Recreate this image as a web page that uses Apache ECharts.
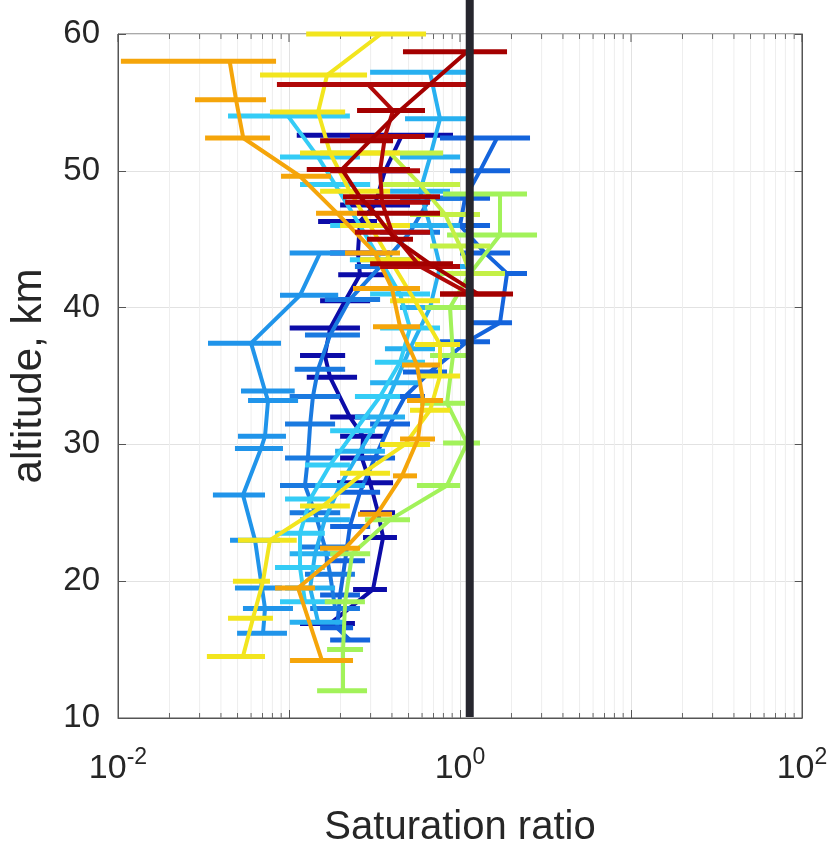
<!DOCTYPE html>
<html>
<head>
<meta charset="utf-8">
<script src="https://cdn.jsdelivr.net/npm/echarts@6/dist/echarts.min.js"></script>
<style>html,body{margin:0;padding:0;background:#fff}#c{width:836px;height:853px}</style>
</head>
<body>
<div id="c"></div>
<script>
// ---- data (altitude km, saturation ratio centre, low, high) ----
const altDarkBlue = [52.6,50.0,47.5,46.3,44.0,42.4,40.5,38.5,36.5,34.9,32.0,30.6,29.0,27.2,25.0,23.2,19.4,16.9];
const satDarkBlue = [0.458,0.364,0.318,0.260,0.253,0.260,0.213,0.174,0.162,0.174,0.227,0.271,0.267,0.298,0.332,0.355,0.310,0.174];
const loDarkBlue  = [0.111,0.260,0.199,0.148,0.174,0.194,0.152,0.101,0.116,0.127,0.174,0.199,0.199,0.191,0.260,0.271,0.237,0.116];
const hiDarkBlue  = [0.910,0.510,0.510,0.327,0.390,0.374,0.298,0.260,0.213,0.250,0.298,0.364,0.341,0.406,0.417,0.428,0.374,0.243];

const altBlue = [52.4,50.0,48.0,46.0,44.0,42.5,38.9,37.5,35.3,33.5,31.5,29.0,26.5,24.0,21.5,19.0,16.6,15.7];
const satBlue = [1.646,1.309,1.07,1.0,1.40,1.884,1.714,1.099,0.668,0.477,0.390,0.318,0.260,0.227,0.213,0.199,0.191,0.227];
const loBlue  = [0.764,0.874,0.668,0.584,1.0,1.438,1.19,0.764,0.464,0.341,0.298,0.243,0.199,0.174,0.162,0.152,0.152,0.174];
const hiBlue  = [2.567,1.961,1.498,1.498,1.961,2.465,2.015,1.498,0.840,0.624,0.510,0.417,0.341,0.298,0.278,0.260,0.237,0.298];

const altMidBlue = [48.0,45.5,43.0,40.6,38.0,35.5,33.5,31.5,29.0,27.0,25.0,22.5,20.5,18.0];
const satMidBlue = [0.668,0.510,0.341,0.227,0.174,0.148,0.138,0.133,0.129,0.124,0.142,0.162,0.174,0.186];
const loMidBlue  = [0.446,0.341,0.243,0.162,0.124,0.108,0.101,0.0948,0.0948,0.0886,0.101,0.116,0.124,0.133];
const hiMidBlue  = [1.0,0.764,0.477,0.341,0.260,0.213,0.199,0.186,0.186,0.174,0.199,0.227,0.243,0.260];

const altSkyBlue = [44.0,40.9,37.4,33.9,33.2,30.6,29.7,26.3,23.0,19.5,18.0,16.2];
const satSkyBlue = [0.152,0.116,0.060,0.0724,0.0754,0.0724,0.0686,0.0538,0.0633,0.0695,0.0724,0.0705];
const loSkyBlue  = [0.101,0.0886,0.0336,0.0524,0.0576,0.0503,0.0483,0.0359,0.0452,0.0483,0.0538,0.0497];
const hiSkyBlue  = [0.213,0.194,0.0898,0.108,0.113,0.096,0.0922,0.0724,0.0886,0.091,0.1055,0.0973];

const altLightBlue = [57.2,53.8,51.0,48.5,46.0,43.0,40.0,37.0,34.5,32.0,29.5,27.0,24.5,22.0,19.5,17.0];
const satLightBlue = [0.668,0.764,0.668,0.584,0.668,0.764,0.668,0.510,0.417,0.341,0.260,0.199,0.162,0.142,0.133,0.148];
const loLightBlue  = [0.298,0.477,0.446,0.390,0.446,0.510,0.446,0.364,0.298,0.243,0.186,0.142,0.116,0.101,0.0948,0.101];
const hiLightBlue  = [1.099,1.099,1.0,0.874,1.0,1.144,0.935,0.714,0.584,0.477,0.364,0.278,0.227,0.199,0.186,0.213];

const altCyan = [54.0,51.0,49.0,46.0,43.5,41.0,38.5,36.0,33.5,31.0,28.5,26.0,23.5,21.0,18.5];
const satCyan = [0.0987,0.148,0.186,0.260,0.341,0.446,0.510,0.446,0.341,0.243,0.174,0.133,0.116,0.116,0.124];
const loCyan  = [0.044,0.0886,0.116,0.174,0.227,0.298,0.341,0.318,0.243,0.174,0.124,0.0948,0.0828,0.0828,0.0886];
const hiCyan  = [0.227,0.260,0.298,0.446,0.510,0.668,0.764,0.624,0.446,0.318,0.227,0.174,0.162,0.162,0.174];

const altGreen = [48.3,45.3,42.5,40.0,36.5,33.0,30.1,27.0,24.5,22.0,18.5,15.0,12.0];
const satGreen = [1.714,1.714,1.144,0.874,0.910,0.840,1.099,0.840,0.390,0.234,0.213,0.207,0.207];
const loGreen  = [0.796,0.840,0.764,0.624,0.668,0.584,0.796,0.560,0.278,0.174,0.162,0.167,0.146];
const hiGreen  = [2.465,2.821,1.714,1.144,1.144,1.07,1.309,1.0,0.510,0.298,0.278,0.271,0.286];

const altLime = [51.3,49.0,46.8,44.5,42.5];
const satLime = [0.390,0.584,0.820,1.0,1.144];
const loLime  = [0.152,0.341,0.510,0.668,0.820];
const hiLime  = [0.796,1.0,1.309,1.498,1.833];

const altYellow = [60.0,57.0,54.3,51.3,48.5,46.0,43.5,40.5,37.3,35.0,32.5,30.0,27.9,25.5,23.0,20.0,17.3,14.5];
const satYellow = [0.345,0.167,0.148,0.174,0.227,0.298,0.390,0.545,0.764,0.764,0.668,0.477,0.271,0.158,0.0774,0.0705,0.0616,0.0538];
const loYellow  = [0.126,0.0677,0.0774,0.116,0.152,0.199,0.260,0.390,0.545,0.584,0.510,0.341,0.199,0.116,0.0503,0.047,0.044,0.0331];
const hiYellow  = [0.633,0.286,0.213,0.446,0.390,0.510,0.584,0.764,1.0,1.0,0.874,0.668,0.390,0.227,0.111,0.0774,0.0806,0.0724];

const altOrange = [58.0,55.2,52.4,49.6,46.9,44.0,41.4,38.6,35.8,33.2,30.4,27.7,24.9,22.4,19.5,14.2];
const satOrange = [0.045,0.049,0.054,0.116,0.191,0.318,0.400,0.446,0.560,0.608,0.568,0.458,0.327,0.213,0.113,0.156];
const loOrange  = [0.0104,0.0282,0.0323,0.0898,0.1439,0.2126,0.2368,0.3099,0.458,0.490,0.446,0.4057,0.2532,0.1518,0.0828,0.1014];
const hiOrange  = [0.084,0.0734,0.0774,0.1761,0.3184,0.4458,0.5838,0.5838,0.7638,0.7955,0.7142,0.5603,0.4003,0.2601,0.1419,0.2368];

const altRedA = [58.7,54.4,52.2,50.1,48.1,46.9,45.0,43.2,41.0];
const satRedA = [1.099,0.446,0.298,0.204,0.260,0.318,0.417,0.668,1.275];
const loRedA  = [0.464,0.250,0.152,0.127,0.207,0.250,0.286,0.298,0.764];
const hiRedA  = [1.884,0.624,0.406,0.510,0.764,0.764,0.531,0.910,2.042];

const altRedB = [56.3,54.4,52.5,50.0,47.7,45.5,43.0,41.0];
const satRedB = [0.290,0.406,0.364,0.341,0.350,0.400,0.584,1.144];
const loRedB  = [0.085,0.260,0.227,0.174,0.213,0.243,0.341,0.764];
const hiRedB  = [1.099,0.624,0.624,0.584,0.668,0.668,1.0,1.833];

const saturationLine = 1.14;
const xMajorTicks = [0.01, 0.1, 1, 10, 100];
const xMinorTicks = [];
[0.01, 0.1, 1, 10].forEach(d => { for (let k = 2; k <= 9; k++) xMinorTicks.push(+(d * k).toPrecision(3)); });
const yTicks = [10, 20, 30, 40, 50, 60];

const profiles = [
  { color: '#0c0ca8', alt: altDarkBlue, sat: satDarkBlue, lo: loDarkBlue, hi: hiDarkBlue },
  { color: '#1464dc', alt: altBlue, sat: satBlue, lo: loBlue, hi: hiBlue },
  { color: '#1a7ae0', alt: altMidBlue, sat: satMidBlue, lo: loMidBlue, hi: hiMidBlue },
  { color: '#2094ea', alt: altSkyBlue, sat: satSkyBlue, lo: loSkyBlue, hi: hiSkyBlue },
  { color: '#28b0f0', alt: altLightBlue, sat: satLightBlue, lo: loLightBlue, hi: hiLightBlue },
  { color: '#34ccf6', alt: altCyan, sat: satCyan, lo: loCyan, hi: hiCyan },
  { color: '#a2f25a', alt: altGreen, sat: satGreen, lo: loGreen, hi: hiGreen },
  { color: '#c4f046', alt: altLime, sat: satLime, lo: loLime, hi: hiLime },
  { color: '#f2e51e', alt: altYellow, sat: satYellow, lo: loYellow, hi: hiYellow },
  { color: '#f5a50a', alt: altOrange, sat: satOrange, lo: loOrange, hi: hiOrange },
  { color: '#b00808', alt: altRedB, sat: satRedB, lo: loRedB, hi: hiRedB },
  { color: '#a40000', alt: altRedA, sat: satRedA, lo: loRedA, hi: hiRedA }
];

const FONT = 'Liberation Sans';
const chart = echarts.init(document.getElementById('c'), null, { renderer: 'canvas' });

const series = [];
// minor vertical grid lines and minor ticks (bottom and top)
series.push({
  type: 'custom', silent: true, z: 1,
  data: xMinorTicks.map(v => [v]),
  encode: { x: 0 },
  renderItem: (params, api) => {
    const v = api.value(0);
    const a = api.coord([v, 10]), b = api.coord([v, 60]);
    return { type: 'group', children: [
      { type: 'line', shape: { x1: a[0], y1: a[1], x2: b[0], y2: b[1] }, style: { stroke: '#eeeeee', lineWidth: 1 } },
      { type: 'line', shape: { x1: a[0], y1: a[1], x2: a[0], y2: a[1] - 5 }, style: { stroke: '#666', lineWidth: 1 } },
      { type: 'line', shape: { x1: b[0], y1: b[1], x2: b[0], y2: b[1] + 5 }, style: { stroke: '#666', lineWidth: 1 } }
    ]};
  }
});
// major top ticks
series.push({
  type: 'custom', silent: true, z: 1,
  data: xMajorTicks.map(v => [v]),
  encode: { x: 0 },
  renderItem: (params, api) => {
    const b = api.coord([api.value(0), 60]);
    return { type: 'line', shape: { x1: b[0], y1: b[1], x2: b[0], y2: b[1] + 8 }, style: { stroke: '#555', lineWidth: 1 } };
  }
});

profiles.forEach((p, idx) => {
  series.push({
    type: 'custom', silent: true, z: 3 + idx * 2,
    data: p.alt.map((a, i) => [p.lo[i], p.hi[i], a]),
    encode: { x: [0, 1], y: 2 },
    renderItem: (params, api) => {
      const a = api.coord([api.value(0), api.value(2)]);
      const b = api.coord([api.value(1), api.value(2)]);
      return { type: 'line', shape: { x1: a[0], y1: a[1], x2: b[0], y2: b[1] }, style: { stroke: p.color, lineWidth: 5, lineCap: 'butt' } };
    }
  });
  series.push({
    type: 'line', silent: true, z: 4 + idx * 2,
    data: p.alt.map((a, i) => [p.sat[i], a]),
    symbol: 'none', smooth: false,
    lineStyle: { color: p.color, width: 4 },
    itemStyle: { color: p.color }
  });
});

// vertical saturation line (extends to top of canvas)
series.push({
  type: 'custom', silent: true, z: 100,
  data: [[saturationLine]],
  encode: { x: 0 },
  clip: false,
  renderItem: (params, api) => {
    const a = api.coord([api.value(0), 10]);
    return { type: 'line', shape: { x1: a[0], y1: a[1] - 1, x2: a[0], y2: 0 }, style: { stroke: '#26262e', lineWidth: 8 } };
  }
});

chart.setOption({
  animation: false,
  backgroundColor: '#ffffff',
  grid: { left: 118, right: 34, top: 34, bottom: 124, show: true, borderColor: '#555', borderWidth: 1, backgroundColor: 'transparent' },
  xAxis: {
    type: 'log', logBase: 10, min: 0.01, max: 100,
    name: 'Saturation ratio', nameLocation: 'middle', nameGap: 90,
    nameTextStyle: { fontFamily: FONT, fontSize: 40, color: '#262626' },
    axisLine: { lineStyle: { color: '#555', width: 1 } },
    axisTick: { inside: true, length: 8, lineStyle: { color: '#555' } },
    splitLine: { show: true, lineStyle: { color: '#e2e2e2', width: 1 } },
    axisLabel: {
      margin: 28,
      formatter: v => {
        const e = Math.round(Math.log10(v));
        if (e % 2 !== 0) return '';
        return '{b|10}{s|' + e + '}';
      },
      rich: {
        b: { fontFamily: FONT, fontSize: 34, color: '#262626', verticalAlign: 'bottom', lineHeight: 40 },
        s: { fontFamily: FONT, fontSize: 23, color: '#262626', verticalAlign: 'top', lineHeight: 40 }
      }
    }
  },
  yAxis: [{
    type: 'value', min: 10, max: 60, interval: 10,
    name: 'altitude, km', nameLocation: 'middle', nameGap: 68, nameRotate: 90,
    nameTextStyle: { fontFamily: FONT, fontSize: 42, color: '#262626' },
    axisLine: { show: true, lineStyle: { color: '#555', width: 1 } },
    axisTick: { show: true, inside: true, length: 8, lineStyle: { color: '#555' } },
    splitLine: { show: true, lineStyle: { color: '#e2e2e2', width: 1 } },
    axisLabel: { margin: 18, fontFamily: FONT, fontSize: 33, color: '#262626',
      formatter: v => yTicks.includes(v) ? String(v) : '' }
  }, {
    type: 'value', min: 10, max: 60, interval: 10, position: 'right',
    axisLine: { show: true, lineStyle: { color: '#555', width: 1 } },
    axisTick: { show: true, inside: true, length: 8, lineStyle: { color: '#555' } },
    splitLine: { show: false }, axisLabel: { show: false }
  }],
  series: series
});
</script>
</body>
</html>
